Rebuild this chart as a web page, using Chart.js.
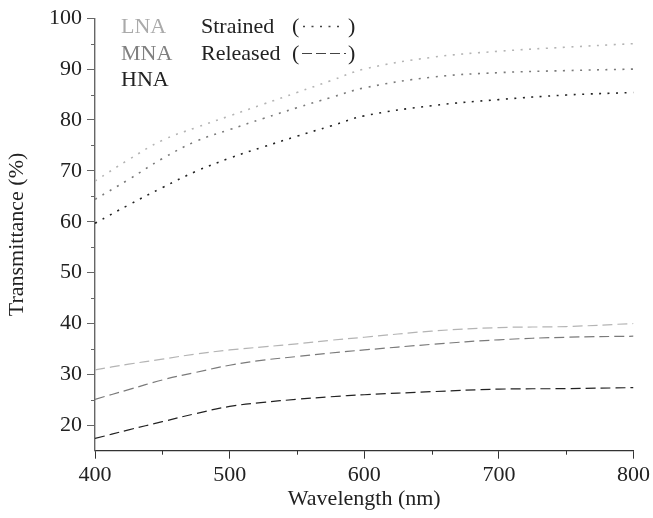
<!DOCTYPE html>
<html lang="en">
<head>
    <meta charset="UTF-8">
    <title>Transmittance</title>
    <script src="https://cdn.jsdelivr.net/npm/chart.js"></script>
    <style>
        body { margin: 0; background: #fff; }
    </style>
</head>
<body>
    <canvas id="myChart" width="653" height="518"></canvas>

    <script>
        // wavelength grid (nm)
        const wavelengths = [400, 425, 450, 475, 500, 525, 550, 575, 600, 650, 700, 750, 800];

        // strained (dotted)
        const lnaStrained = [68.0, 72.2, 76.0, 78.5, 80.8, 83.1, 85.4, 87.7, 90.0, 92.3, 93.5, 94.3, 95.0];
        const mnaStrained = [64.4, 68.3, 72.4, 75.8, 78.1, 80.3, 82.4, 84.4, 86.3, 88.4, 89.3, 89.7, 90.0];
        const hnaStrained = [59.7, 63.3, 66.7, 69.9, 72.5, 74.7, 76.8, 78.8, 80.8, 82.8, 84.0, 84.9, 85.4];

        // released (dashed)
        const lnaReleased = [30.9, 32.0, 33.0, 34.0, 34.8, 35.4, 36.0, 36.7, 37.3, 38.5, 39.2, 39.4, 40.0];
        const mnaReleased = [25.1, 27.0, 28.9, 30.4, 31.8, 32.8, 33.5, 34.2, 34.8, 35.9, 36.8, 37.3, 37.5];
        const hnaReleased = [17.4, 19.1, 20.7, 22.3, 23.7, 24.5, 25.1, 25.6, 26.0, 26.6, 27.1, 27.2, 27.4];

        const yTicks = [20, 30, 40, 50, 60, 70, 80, 90, 100];
        const yMinor = [25, 35, 45, 55, 65, 75, 85, 95];
        const xMinor = [450, 550, 650, 750];

        const serif = "'Liberation Serif', 'Times New Roman', serif";
        const light = '#b4b4b4', mid = '#7a7a7a', dark = '#222222';

        function pts(ys) {
            return wavelengths.map((x, i) => ({ x: x, y: ys[i] }));
        }

        function series(label, ys, color, dashed) {
            return {
                label: label,
                data: pts(ys),
                borderColor: color,
                borderWidth: dashed ? 1.2 : 1.6,
                borderDash: dashed ? [10, 5] : [2, 6.5],
                pointRadius: 0,
                fill: false,
                tension: 0.4
            };
        }

        // minor ticks and the text key in the top left corner
        const extras = {
            id: 'extras',
            afterDraw(chart) {
                const c = chart.ctx;
                const xs = chart.scales.x, ys = chart.scales.y;
                c.save();
                c.lineWidth = 1;
                c.strokeStyle = '#666';
                yMinor.forEach(v => {
                    const p = Math.round(ys.getPixelForValue(v)) + 0.5;
                    c.beginPath();
                    c.moveTo(xs.left - 4, p);
                    c.lineTo(xs.left, p);
                    c.stroke();
                });
                c.strokeStyle = '#333';
                xMinor.forEach(v => {
                    const p = Math.round(xs.getPixelForValue(v)) + 0.5;
                    c.beginPath();
                    c.moveTo(p, ys.bottom);
                    c.lineTo(p, ys.bottom + 4);
                    c.stroke();
                });

                c.font = '22px ' + serif;
                c.textBaseline = 'alphabetic';
                c.textAlign = 'left';
                c.fillStyle = '#aaaaaa';
                c.fillText('LNA', 121, 33);
                c.fillStyle = '#808080';
                c.fillText('MNA', 121, 60);
                c.fillStyle = dark;
                c.fillText('HNA', 121, 86);
                c.fillText('Strained', 201, 33);
                c.fillText('Released', 201, 60);
                c.fillText('(', 292, 33);
                c.fillText(')', 348, 33);
                c.fillText('(', 292, 60);
                c.fillText(')', 348, 60);

                c.strokeStyle = '#444';
                c.lineWidth = 1.6;
                c.setLineDash([2, 6.5]);
                c.beginPath();
                c.moveTo(303, 26.5);
                c.lineTo(344, 26.5);
                c.stroke();
                c.lineWidth = 1.2;
                c.setLineDash([10, 4]);
                c.beginPath();
                c.moveTo(302, 53.5);
                c.lineTo(346, 53.5);
                c.stroke();
                c.restore();
            }
        };

        const ctx = document.getElementById('myChart').getContext('2d');
        const chart = new Chart(ctx, {
            type: 'line',
            data: {
                datasets: [
                    series('LNA strained', lnaStrained, light, false),
                    series('MNA strained', mnaStrained, mid, false),
                    series('HNA strained', hnaStrained, dark, false),
                    series('LNA released', lnaReleased, light, true),
                    series('MNA released', mnaReleased, mid, true),
                    series('HNA released', hnaReleased, dark, true)
                ]
            },
            options: {
                responsive: false,
                animation: false,
                layout: { padding: { top: 15.7, right: 18, left: 0, bottom: 0 } },
                plugins: {
                    legend: { display: false },
                    tooltip: { enabled: false }
                },
                scales: {
                    x: {
                        type: 'linear',
                        min: 400,
                        max: 800,
                        afterFit: s => { s.height = 67.3; },
                        ticks: {
                            stepSize: 100,
                            color: dark,
                            padding: 3,
                            font: { family: serif, size: 22 }
                        },
                        grid: { drawOnChartArea: false, tickLength: 8, color: '#333' },
                        border: { display: true, color: '#333', width: 1.2 },
                        title: {
                            display: true,
                            text: 'Wavelength (nm)',
                            color: dark,
                            font: { family: serif, size: 22 },
                            padding: { top: 0, bottom: 6 }
                        }
                    },
                    y: {
                        min: 15,
                        max: 100,
                        afterFit: s => { s.width = 95; },
                        afterBuildTicks: s => { s.ticks = yTicks.map(v => ({ value: v })); },
                        ticks: {
                            color: dark,
                            padding: 5,
                            font: { family: serif, size: 22 }
                        },
                        grid: { drawOnChartArea: false, tickLength: 8, color: '#666' },
                        border: { display: true, color: '#666', width: 1.4 },
                        title: {
                            display: true,
                            text: 'Transmittance (%)',
                            color: dark,
                            font: { family: serif, size: 22 },
                            padding: { top: 4, bottom: 0 }
                        }
                    }
                }
            },
            plugins: [extras]
        });
    </script>
</body>
</html>
